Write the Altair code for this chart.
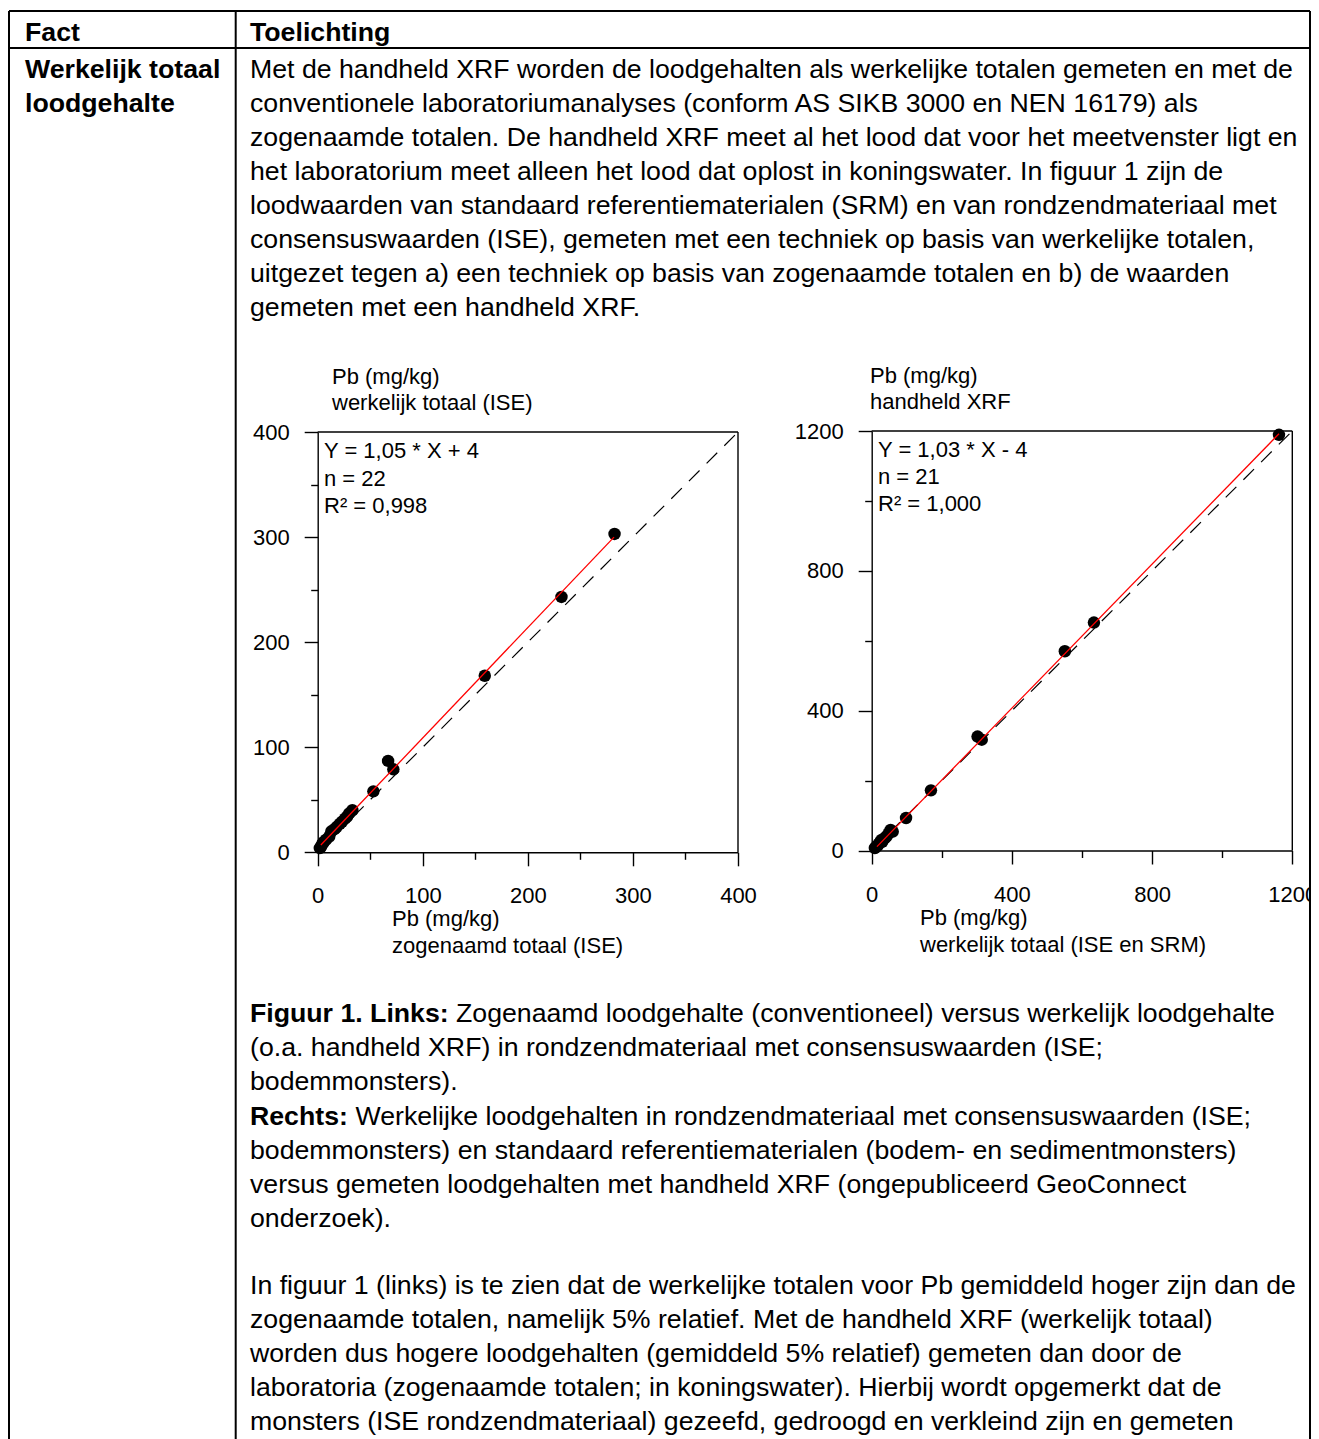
import altair as alt
import pandas as pd

FONT = "Liberation Sans"
BODY_SIZE = 26.7
CHART_SIZE = 22
OX, OY = 8, 8          # page margin
W, H = 1303, 1460      # drawing area (page is cropped by the window)

# ---------------- left panel: zogenaamd totaal vs werkelijk totaal ----------------
left_x = [282.5, 232, 159, 72, 67, 53, 33, 30, 28, 26, 23, 21, 18, 16, 13, 11, 8, 6, 4, 3, 2, 5]
left_y = [303, 243, 168, 79, 87, 58, 40, 37, 34, 32, 29, 27, 24, 22, 20, 15, 12, 10, 7, 5, 4, 9]
left_fit_x = [3, 282]
left_fit_y = [7, 300]
left_one_to_one = [0, 400]
left_major = [0, 100, 200, 300, 400]
left_minor = [50, 150, 250, 350]
left_stats = ["Y = 1,05 * X + 4", "n = 22", "R² = 0,998"]
left_ytitle = ["Pb (mg/kg)", "werkelijk totaal (ISE)"]
left_xtitle = ["Pb (mg/kg)", "zogenaamd totaal (ISE)"]

# ---------------- right panel: werkelijk totaal vs handheld XRF ----------------
right_x = [1162, 634, 551, 314, 302, 169, 98, 60, 54, 48, 42, 38, 33, 28, 24, 20, 17, 14, 11, 9, 30]
right_y = [1189, 652, 570, 317, 326, 172, 93, 54, 59, 48, 40, 36, 31, 30, 24, 19, 14, 12, 9, 7, 25]
right_fit_x = [15, 1162]
right_fit_y = [11, 1192]
right_one_to_one = [0, 1200]
right_major = [0, 400, 800, 1200]
right_minor = [200, 600, 1000]
right_stats = ["Y = 1,03 * X - 4", "n = 21", "R² = 1,000"]
right_ytitle = ["Pb (mg/kg)", "handheld XRF"]
right_xtitle = ["Pb (mg/kg)", "werkelijk totaal (ISE en SRM)"]

# ---------------- table text ----------------
header_cells = ["Fact", "Toelichting"]
fact_lines = ["Werkelijk totaal", "loodgehalte"]
body_lines = [
    "Met de handheld XRF worden de loodgehalten als werkelijke totalen gemeten en met de",
    "conventionele laboratoriumanalyses (conform AS SIKB 3000 en NEN 16179) als",
    "zogenaamde totalen. De handheld XRF meet al het lood dat voor het meetvenster ligt en",
    "het laboratorium meet alleen het lood dat oplost in koningswater. In figuur 1 zijn de",
    "loodwaarden van standaard referentiematerialen (SRM) en van rondzendmateriaal met",
    "consensuswaarden (ISE), gemeten met een techniek op basis van werkelijke totalen,",
    "uitgezet tegen a) een techniek op basis van zogenaamde totalen en b) de waarden",
    "gemeten met een handheld XRF.",
]
caption_bold = ["Figuur 1. Links:", "", "", "Rechts:", "", "", ""]
caption_rest = [
    "Zogenaamd loodgehalte (conventioneel) versus werkelijk loodgehalte",
    "(o.a. handheld XRF) in rondzendmateriaal met consensuswaarden (ISE;",
    "bodemmonsters).",
    "Werkelijke loodgehalten in rondzendmateriaal met consensuswaarden (ISE;",
    "bodemmonsters) en standaard referentiematerialen (bodem- en sedimentmonsters)",
    "versus gemeten loodgehalten met handheld XRF (ongepubliceerd GeoConnect",
    "onderzoek).",
]
after_lines = [
    "In figuur 1 (links) is te zien dat de werkelijke totalen voor Pb gemiddeld hoger zijn dan de",
    "zogenaamde totalen, namelijk 5% relatief. Met de handheld XRF (werkelijk totaal)",
    "worden dus hogere loodgehalten (gemiddeld 5% relatief) gemeten dan door de",
    "laboratoria (zogenaamde totalen; in koningswater). Hierbij wordt opgemerkt dat de",
    "monsters (ISE rondzendmateriaal) gezeefd, gedroogd en verkleind zijn en gemeten",
]

# ---------------- layout (page pixel coordinates) ----------------
LINE = 34.0
CAP_LINE = 34.2
COL1_X, COL2_X = 25, 250
HEADER_BASE = 41.0
BODY_BASE = 78.0
CAPTION_BASE = 1022.0
AFTER_BASE = 1293.5
BOLD_END = {"Figuur 1. Links:": 456, "Rechts:": 355.5}


def rows(items):
    return pd.DataFrame([{"t": t, "px": x - OX, "py": y - OY} for t, x, y in items])


normal_items, bold_items, chart_items = [], [], []
bold_items += [(header_cells[0], COL1_X, HEADER_BASE), (header_cells[1], COL2_X, HEADER_BASE)]
for i, t in enumerate(fact_lines):
    bold_items.append((t, COL1_X, BODY_BASE + i * LINE))
for i, t in enumerate(body_lines):
    normal_items.append((t, COL2_X, BODY_BASE + i * LINE))
for i, (b, t) in enumerate(zip(caption_bold, caption_rest)):
    y = CAPTION_BASE + i * CAP_LINE
    if b:
        bold_items.append((b, COL2_X, y))
        normal_items.append((t, BOLD_END[b], y))
    else:
        normal_items.append((t, COL2_X, y))
for i, t in enumerate(after_lines):
    normal_items.append((t, COL2_X, AFTER_BASE + i * CAP_LINE))

# chart annotations
for i, t in enumerate(left_ytitle):
    chart_items.append((t, 332, 384 + i * 26))
for i, t in enumerate(right_ytitle):
    chart_items.append((t, 870, 383 + i * 26))
for i, t in enumerate(left_stats):
    chart_items.append((t, 324, 458 + i * 27.5))
for i, t in enumerate(right_stats):
    chart_items.append((t, 878, 457 + i * 27))
for i, t in enumerate(left_xtitle):
    chart_items.append((t, 392, 926 + i * 27))
for i, t in enumerate(right_xtitle):
    chart_items.append((t, 920, 925 + i * 27))


def text_layer(df, size, weight):
    return alt.Chart(df).mark_text(
        align="left", baseline="alphabetic", font=FONT, fontSize=size,
        fontWeight=weight, color="black"
    ).encode(
        x=alt.X("px:Q", scale=None, axis=None),
        y=alt.Y("py:Q", scale=None, axis=None),
        text="t:N",
    )


# table borders (right border kept just inside the drawable width)
TL, TR, TT, TH, TD = 9, 1310, 11, 48, 235.7
table_df = pd.DataFrame({
    "x": [TL, TL, TL, TD, TR],
    "x2": [TR, TR, TL, TD, TR],
    "y": [TT, TH, TT, TT, TT],
    "y2": [TT, TH, H + OY, H + OY, H + OY],
})
for c in ["x", "x2"]:
    table_df[c] = table_df[c] - OX
for c in ["y", "y2"]:
    table_df[c] = table_df[c] - OY
table = alt.Chart(table_df).mark_rule(color="black", strokeWidth=2).encode(
    x=alt.X("x:Q", scale=None, axis=None), x2="x2:Q",
    y=alt.Y("y:Q", scale=None, axis=None), y2="y2:Q",
)


def panel(px, py, fx, fy, ident, major, minor, box, xpad):
    x0, x1, yb, yt = box
    dmax = ident[1]
    xs = alt.Scale(domain=[0, dmax], range=[x0 - OX, x1 - OX], nice=False, zero=False)
    ys = alt.Scale(domain=[0, dmax], range=[yb - OY, yt - OY], nice=False, zero=False)
    common = dict(grid=False, title=None, labelFont=FONT, labelFontSize=CHART_SIZE,
                  labelColor="black", tickColor="black", domainColor="black",
                  tickWidth=1.4, domainWidth=1.4, labelFlush=False, labelOverlap=False)
    xoff = (yb - OY) - H
    yoff = -(x0 - OX)
    xa_major = alt.Axis(orient="bottom", offset=xoff, values=major, tickSize=13.5,
                        labelPadding=xpad, format="d", **common)
    ya_major = alt.Axis(orient="left", offset=yoff, values=major, tickSize=13.5,
                        labelPadding=15, format="d", **common)
    xa_minor = alt.Axis(orient="bottom", offset=xoff, values=minor, tickSize=7,
                        labels=False, domain=False, **common)
    ya_minor = alt.Axis(orient="left", offset=yoff, values=minor, tickSize=7,
                        labels=False, domain=False, **common)
    pts = pd.DataFrame({"x": px, "y": py})
    fit = pd.DataFrame({"x": fx, "y": fy})
    idl = pd.DataFrame({"x": ident, "y": ident})
    frame = pd.DataFrame({"x": [0, dmax], "x2": [dmax, dmax], "y": [dmax, 0], "y2": [dmax, dmax]})
    dashed = alt.Chart(idl).mark_line(color="black", strokeWidth=1.2, strokeDash=[15, 10]).encode(
        x=alt.X("x:Q", scale=xs, axis=xa_minor), y=alt.Y("y:Q", scale=ys, axis=ya_minor))
    dots = alt.Chart(pts).mark_circle(size=155, color="black", opacity=1).encode(
        x=alt.X("x:Q", scale=xs, axis=xa_major), y=alt.Y("y:Q", scale=ys, axis=ya_major))
    line = alt.Chart(fit).mark_line(color="#ff0000", strokeWidth=1.3).encode(
        x=alt.X("x:Q", scale=xs, axis=None), y=alt.Y("y:Q", scale=ys, axis=None))
    box_ = alt.Chart(frame).mark_rule(color="black", strokeWidth=1.4).encode(
        x=alt.X("x:Q", scale=xs, axis=None), x2="x2:Q",
        y=alt.Y("y:Q", scale=ys, axis=None), y2="y2:Q")
    return [dashed, dots, line, box_]


layers = []
layers += panel(left_x, left_y, left_fit_x, left_fit_y, left_one_to_one,
                left_major, left_minor, (317.7, 738.0, 852.3, 432.0), 20)
layers += panel(right_x, right_y, right_fit_x, right_fit_y, right_one_to_one,
                right_major, right_minor, (871.7, 1292.3, 850.5, 431.0), 20)
layers += [
    text_layer(rows(normal_items), BODY_SIZE, "normal"),
    text_layer(rows(bold_items), BODY_SIZE, "bold"),
    text_layer(rows(chart_items), CHART_SIZE, "normal"),
    table,
]

chart = alt.layer(*layers).resolve_scale(x="independent", y="independent").properties(
    width=W, height=H, padding=0, autosize="none", background="white"
).configure_view(stroke=None)

chart.save("out.html", embed_options={"renderer": "svg", "actions": False})
